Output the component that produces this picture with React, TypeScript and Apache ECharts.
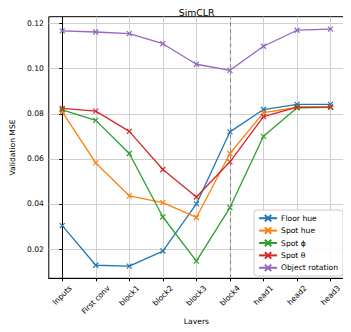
import React, { useEffect, useRef } from "react";
import * as echarts from "echarts";

const categories = ["Inputs", "First conv", "block1", "block2", "block3", "block4", "head1", "head2", "head3"];
const floorHue = [0.0304, 0.0128, 0.0124, 0.0191, 0.0400, 0.0720, 0.0819, 0.0842, 0.0842];
const spotHue = [0.0809, 0.0582, 0.0436, 0.0406, 0.0340, 0.0624, 0.0805, 0.0828, 0.0830];
const spotPhi = [0.0818, 0.0771, 0.0624, 0.0342, 0.0146, 0.0384, 0.0700, 0.0827, 0.0829];
const spotTheta = [0.0824, 0.0812, 0.0722, 0.0553, 0.0431, 0.0587, 0.0788, 0.0830, 0.0830];
const objectRotation = [0.1168, 0.1163, 0.1156, 0.1111, 0.1020, 0.0993, 0.1100, 0.1171, 0.1176];
const yTicks = [0.02, 0.04, 0.06, 0.08, 0.10, 0.12];
const seriesNames = ["Floor hue", "Spot hue", "Spot \u03d5", "Spot \u03b8", "Object rotation"];
const seriesData = [floorHue, spotHue, spotPhi, spotTheta, objectRotation];
const colors = ["#1f77b4", "#ff7f0e", "#2ca02c", "#d62728", "#9467bd"];
const dividerIndex = 5;

const FONT = "DejaVu Sans";
const FS = 7.6;
const X_SYMBOL = "path://M0,0L10,10M10,0L0,10";
const Y_MIN = 0.007;
const Y_MAX = 0.1231;

function measure(text: string): number {
  const c = document.createElement("canvas").getContext("2d");
  if (!c) return text.length * FS * 0.6;
  c.font = `${FS}px "${FONT}"`;
  return c.measureText(text).width;
}

export default function App() {
  const ref = useRef<HTMLDivElement>(null);
  useEffect(() => {
    if (!ref.current) return;
    const chart = echarts.init(ref.current, null, { renderer: "svg" });
    const xIdx = categories.map((_, i) => i);
    chart.setOption({
      animation: false,
      textStyle: { fontFamily: FONT },
      title: {
        text: "SimCLR",
        left: 191.6,
        textAlign: "center",
        top: 3,
        textStyle: { fontFamily: FONT, fontSize: 9.3, fontWeight: "normal", color: "#000" },
      },
      grid: {
        left: 39.3,
        right: 7,
        top: 16.7,
        bottom: 53.7,
        show: true,
        borderColor: "#000",
        borderWidth: 1,
        backgroundColor: "transparent",
      },
      legend: {
        right: 8,
        top: 210,
        orient: "vertical",
        itemWidth: 18,
        itemHeight: 8,
        itemGap: 4,
        padding: [4, 5, 4, 4],
        borderColor: "#cccccc",
        borderWidth: 1,
        borderRadius: 3,
        backgroundColor: "rgba(255,255,255,0.85)",
        textStyle: { fontFamily: FONT, fontSize: FS, color: "#000", padding: [0, 0, 0, -1] },
        data: seriesNames,
      },
      xAxis: {
        type: "value",
        min: -0.4,
        max: 8.4,
        name: "Layers",
        nameLocation: "middle",
        nameGap: 39,
        nameTextStyle: { fontFamily: FONT, fontSize: FS, color: "#000" },
        axisLine: { show: true, lineStyle: { color: "#000", width: 1 } },
        axisTick: { show: true, length: 3, customValues: xIdx, lineStyle: { color: "#000" } },
        axisLabel: { show: false, customValues: xIdx },
        splitLine: { show: true, lineStyle: { color: "#d0d0d0", width: 1 } },
      },
      yAxis: {
        type: "value",
        min: Y_MIN,
        max: Y_MAX,
        name: "Validation MSE",
        nameLocation: "middle",
        nameGap: 29,
        nameTextStyle: { fontFamily: FONT, fontSize: FS, color: "#000" },
        axisLine: { show: true, lineStyle: { color: "#000", width: 1 } },
        axisTick: { show: true, length: 3, customValues: yTicks, lineStyle: { color: "#000" } },
        axisLabel: {
          customValues: yTicks,
          margin: 5,
          fontFamily: FONT,
          fontSize: FS,
          color: "#000",
          formatter: (v: number) => v.toFixed(2),
        },
        splitLine: { show: true, lineStyle: { color: "#d0d0d0", width: 1 } },
      },
      series: seriesNames.map((name, si) => ({
        name,
        type: "line",
        data: seriesData[si].map((v, i) => [i, v]),
        symbol: X_SYMBOL,
        symbolSize: 5,
        showSymbol: true,
        lineStyle: { color: colors[si], width: 1.3 },
        itemStyle: { color: colors[si], borderColor: colors[si], borderWidth: 1.2 },
        emphasis: { disabled: true },
        markLine:
          si === 0
            ? {
                silent: true,
                symbol: "none",
                label: { show: false },
                lineStyle: { color: "#888888", type: [4, 3], width: 1.1 },
                data: [{ xAxis: dividerIndex }],
              }
            : undefined,
      })),
    });
    // rotated category labels, centred on their ticks like matplotlib
    const h = FS * 1.15;
    const graphics = categories.map((cat, i) => {
      const p = chart.convertToPixel({ gridIndex: 0 }, [i, Y_MIN]) as number[];
      const L = measure(cat);
      const top = p[1] + 5.5;
      const cy = top + (0.7071 * (L + h)) / 2;
      return {
        type: "text",
        x: p[0],
        y: cy,
        rotation: Math.PI / 4,
        silent: true,
        style: {
          text: cat,
          fontFamily: FONT,
          fontSize: FS,
          fill: "#000",
          align: "center",
          verticalAlign: "middle",
        },
      };
    });
    chart.setOption({ graphic: graphics });
    return () => chart.dispose();
  }, []);
  return <div ref={ref} style={{ width: 351, height: 332, margin: -8 }} />;
}
